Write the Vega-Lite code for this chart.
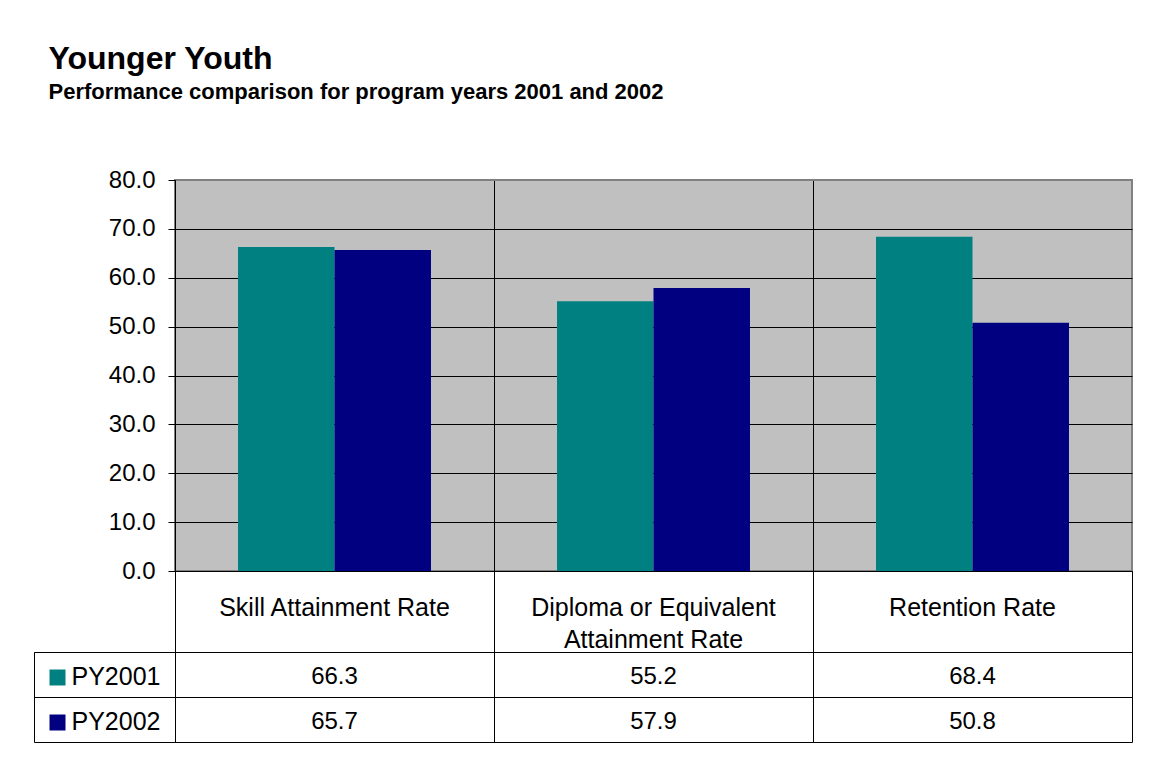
{
  "$schema": "https://vega.github.io/schema/vega-lite/v6.json",
  "background": "white",
  "padding": {"left": 33, "top": 43, "right": 20, "bottom": 20},
  "title": {
    "text": "Younger Youth",
    "subtitle": "Performance comparison for program years 2001 and 2002",
    "anchor": "start",
    "dx": 15,
    "font": "Liberation Sans",
    "fontSize": 32,
    "fontWeight": "bold",
    "color": "black",
    "subtitleFont": "Liberation Sans",
    "subtitleFontSize": 22,
    "subtitleFontWeight": "bold",
    "subtitleColor": "black",
    "subtitlePadding": 6,
    "offset": 63
  },
  "datasets": {
    "perf": [
      {"category": "Skill Attainment Rate", "series": "PY2001", "value": 66.3},
      {"category": "Skill Attainment Rate", "series": "PY2002", "value": 65.7},
      {"category": "Diploma or Equivalent Attainment Rate", "series": "PY2001", "value": 55.2},
      {"category": "Diploma or Equivalent Attainment Rate", "series": "PY2002", "value": 57.9},
      {"category": "Retention Rate", "series": "PY2001", "value": 68.4},
      {"category": "Retention Rate", "series": "PY2002", "value": 50.8}
    ],
    "cats": [
      {"category": "Skill Attainment Rate", "label": "Skill Attainment Rate"},
      {"category": "Diploma or Equivalent Attainment Rate", "label": "Diploma or Equivalent\nAttainment Rate"},
      {"category": "Retention Rate", "label": "Retention Rate"}
    ],
    "series": [{"series": "PY2001"}, {"series": "PY2002"}]
  },
  "columns": 2,
  "spacing": 0,
  "bounds": "flush",
  "concat": [
    {
      "width": 141, "height": 391,
      "data": {"values": [{}]},
      "mark": {"type": "text", "text": ""},
      "encoding": {}
    },
    {
      "width": 957, "height": 391,
      "data": {"name": "perf"},
      "mark": {"type": "bar"},
      "view": {"fill": "#C0C0C0", "stroke": "#808080", "strokeWidth": 2},
      "encoding": {
        "x": {"field": "category", "type": "nominal",
          "sort": ["Skill Attainment Rate", "Diploma or Equivalent Attainment Rate", "Retention Rate"],
          "scale": {"type": "band", "paddingInner": 0, "paddingOuter": 0},
          "axis": {"title": null, "labels": false, "ticks": false, "domain": false, "grid": true, "bandPosition": 0, "gridColor": "black", "gridOpacity": 1}},
        "xOffset": {"field": "series", "type": "nominal", "sort": ["PY2001", "PY2002"], "scale": {"paddingInner": 0, "paddingOuter": 0.653}},
        "y": {"field": "value", "type": "quantitative", "scale": {"domain": [0, 80], "nice": false},
          "axis": {"title": null, "values": [0, 10, 20, 30, 40, 50, 60, 70, 80], "format": ".1f",
            "labelFontSize": 24, "labelColor": "black", "labelFont": "Liberation Sans",
            "tickSize": 7, "tickColor": "black", "domainColor": "black", "labelPadding": 13,
            "grid": true, "gridColor": {"condition": {"test": "datum.value === 80", "value": "#808080"}, "value": "black"}, "gridOpacity": 1}},
        "color": {"field": "series", "type": "nominal", "scale": {"domain": ["PY2001", "PY2002"], "range": ["#008080", "#000080"]}, "legend": null}
      }
    },
    {
      "width": 141, "height": 81,
      "data": {"values": [{}]},
      "mark": {"type": "text", "text": ""},
      "encoding": {}
    },
    {
      "width": 957, "height": 81,
      "data": {"name": "cats"},
      "view": {"stroke": "black", "strokeWidth": 1},
      "mark": {"type": "text", "font": "Liberation Sans", "fontSize": 25, "color": "black", "lineBreak": "\n", "lineHeight": 32, "baseline": "middle", "dy": -4},
      "encoding": {
        "x": {"field": "category", "type": "nominal",
          "sort": ["Skill Attainment Rate", "Diploma or Equivalent Attainment Rate", "Retention Rate"],
          "scale": {"type": "band", "paddingInner": 0, "paddingOuter": 0},
          "axis": {"title": null, "labels": false, "ticks": false, "domain": false, "grid": true, "bandPosition": 0, "gridColor": "black", "gridOpacity": 1}},
        "text": {"field": "label"}
      }
    },
    {
      "width": 141, "height": 90,
      "data": {"name": "series"},
      "view": {"stroke": "black", "strokeWidth": 1},
      "layer": [
        {
          "mark": {"type": "point", "shape": "square", "filled": true, "size": 256, "xOffset": -47, "yOffset": 3, "opacity": 1},
          "encoding": {
            "y": {"field": "series", "type": "nominal", "sort": ["PY2001", "PY2002"], "scale": {"type": "band", "paddingInner": 0, "paddingOuter": 0},
              "axis": {"title": null, "labels": false, "ticks": false, "domain": false, "grid": true, "bandPosition": 0, "gridColor": "black", "gridOpacity": 1}},
            "color": {"field": "series", "type": "nominal", "legend": null}
          }
        },
        {
          "mark": {"type": "text", "align": "left", "dx": -33, "font": "Liberation Sans", "fontSize": 25, "color": "black", "baseline": "middle", "dy": 2},
          "encoding": {
            "y": {"field": "series", "type": "nominal", "sort": ["PY2001", "PY2002"]},
            "text": {"field": "series"}
          }
        }
      ]
    },
    {
      "width": 957, "height": 90,
      "data": {"name": "perf"},
      "view": {"stroke": "black", "strokeWidth": 1},
      "mark": {"type": "text", "font": "Liberation Sans", "fontSize": 24, "color": "black", "baseline": "middle", "dy": 2},
      "encoding": {
        "x": {"field": "category", "type": "nominal",
          "sort": ["Skill Attainment Rate", "Diploma or Equivalent Attainment Rate", "Retention Rate"],
          "scale": {"type": "band", "paddingInner": 0, "paddingOuter": 0},
          "axis": {"title": null, "labels": false, "ticks": false, "domain": false, "grid": true, "bandPosition": 0, "gridColor": "black", "gridOpacity": 1}},
        "y": {"field": "series", "type": "nominal", "sort": ["PY2001", "PY2002"], "scale": {"type": "band", "paddingInner": 0, "paddingOuter": 0},
          "axis": {"title": null, "labels": false, "ticks": false, "domain": false, "grid": true, "bandPosition": 0, "gridColor": "black", "gridOpacity": 1}},
        "text": {"field": "value", "type": "quantitative", "format": ".1f"}
      }
    }
  ],
  "config": {"view": {"stroke": null}, "font": "Liberation Sans"}
}
